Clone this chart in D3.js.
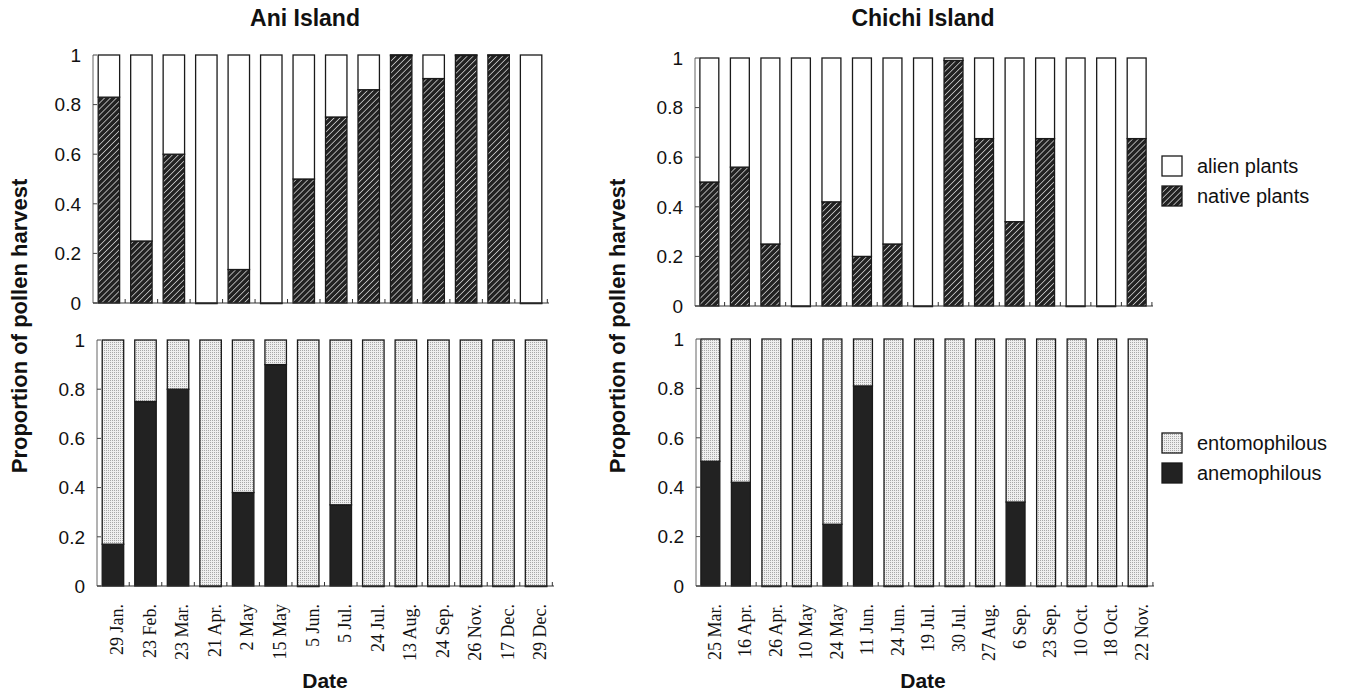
<!DOCTYPE html>
<html lang="en">
    <head>
        <meta charset="utf-8">
        <title>Pollen harvest</title>
        <script type="text/javascript" src="https://d3js.org/d3.v7.min.js"></script>
        <style type="text/css">
          body { margin: 0; background: #fff; }
          text { font-family: "Liberation Sans", Arial, sans-serif; fill: #111; }
          .date { font-family: "Liberation Serif", "Times New Roman", serif; font-size: 18px; }
        </style>
    </head>
    <body>
        <svg width="1348" height="696"></svg>
        <script type="text/javascript">

            //data
            const aniDates = ["29 Jan.", "23 Feb.", "23 Mar.", "21 Apr.", "2 May", "15 May", "5 Jun.",
                              "5 Jul.", "24 Jul.", "13 Aug.", "24 Sep.", "26 Nov.", "17 Dec.", "29 Dec."];
            const aniNative = [0.83, 0.25, 0.60, 0, 0.135, 0, 0.50, 0.75, 0.86, 1, 0.905, 1, 1, 0];
            const aniAnemo  = [0.17, 0.75, 0.80, 0, 0.38, 0.90, 0, 0.33, 0, 0, 0, 0, 0, 0];

            const chichiDates = ["25 Mar.", "16 Apr.", "26 Apr.", "10 May", "24 May", "11 Jun.", "24 Jun.",
                                 "19 Jul.", "30 Jul.", "27 Aug.", "6 Sep.", "23 Sep.", "10 Oct.", "18 Oct.", "22 Nov."];
            const chichiNative = [0.50, 0.56, 0.25, 0, 0.42, 0.20, 0.25, 0, 0.99, 0.675, 0.34, 0.675, 0, 0, 0.675];
            const chichiAnemo  = [0.505, 0.42, 0, 0, 0.25, 0.81, 0, 0, 0, 0, 0.34, 0, 0, 0, 0];

            const yTicks = [0, 0.2, 0.4, 0.6, 0.8, 1];
            const yTickLabels = ["0", "0.2", "0.4", "0.6", "0.8", "1"];

            const svg = d3.select("svg");
            const defs = svg.append("defs");

            //hatch pattern (native plants)
            const hatch = defs.append("pattern")
                .attr("id", "hatch")
                .attr("patternUnits", "userSpaceOnUse")
                .attr("width", 4.2).attr("height", 4.2)
                .attr("patternTransform", "rotate(45)");
            hatch.append("rect").attr("width", 4.2).attr("height", 4.2).attr("fill", "#222");
            hatch.append("line").attr("x1", 0).attr("y1", 0).attr("x2", 0).attr("y2", 4.2)
                .attr("stroke", "#fff").attr("stroke-width", 1.2);

            //stipple pattern (entomophilous)
            const dots = defs.append("pattern")
                .attr("id", "dots")
                .attr("patternUnits", "userSpaceOnUse")
                .attr("width", 2).attr("height", 2);
            dots.append("rect").attr("width", 2).attr("height", 2).attr("fill", "#efefef");
            dots.append("rect").attr("width", 1).attr("height", 1).attr("fill", "#a8a8a8");

            const panels = [
              {dates: aniDates, vals: aniNative, x0: 93, x1: 547, y0: 303, y1: 55, lower: "url(#hatch)", upper: "#fff", pad: 0.34},
              {dates: aniDates, vals: aniAnemo, x0: 97, x1: 552, y0: 586, y1: 340, lower: "#222", upper: "url(#dots)", pad: 0.34, labels: true},
              {dates: chichiDates, vals: chichiNative, x0: 695, x1: 1151, y0: 306, y1: 58, lower: "url(#hatch)", upper: "#fff", pad: 0.38},
              {dates: chichiDates, vals: chichiAnemo, x0: 696, x1: 1152, y0: 586, y1: 339, lower: "#222", upper: "url(#dots)", pad: 0.38, labels: true}
            ];

            panels.forEach(p => {
              const x = d3.scaleBand().domain(p.dates).range([p.x0, p.x1])
                          .paddingInner(p.pad).paddingOuter(0.16);
              const y = d3.scaleLinear().domain([0, 1]).range([p.y0, p.y1]);
              const g = svg.append("g");

              const rows = p.dates.map((d, i) => ({date: d, lower: p.vals[i], upper: 1 - p.vals[i]}));
              const series = d3.stack().keys(["lower", "upper"])(rows);

              g.selectAll("g.layer")
               .data(series)
               .join("g")
               .attr("class", "layer")
               .attr("fill", s => s.key == "lower" ? p.lower : p.upper)
               .selectAll("rect")
               .data(s => s)
               .join("rect")
               .attr("x", d => x(d.data.date))
               .attr("width", x.bandwidth())
               .attr("y", d => y(d[1]))
               .attr("height", d => Math.max(0.6, y(d[0]) - y(d[1])))
               .attr("stroke", "#1a1a1a")
               .attr("stroke-width", 1.3);

              //y axis, ticks pointing in
              g.append("line").attr("x1", p.x0).attr("x2", p.x0).attr("y1", y(0)).attr("y2", y(1))
               .attr("stroke", "#666").attr("stroke-width", 1);
              g.selectAll("line.ytick").data(yTicks).join("line")
               .attr("class", "ytick")
               .attr("x1", p.x0).attr("x2", p.x0 + 4)
               .attr("y1", d => y(d)).attr("y2", d => y(d))
               .attr("stroke", "#444");
              g.selectAll("text.ylab").data(yTicks).join("text")
               .attr("class", "ylab")
               .attr("x", p.x0 - 12).attr("y", d => y(d))
               .attr("dy", "0.36em")
               .attr("text-anchor", "end")
               .style("font-size", "19px")
               .text((d, i) => yTickLabels[i]);

              //x axis with small ticks between bars
              g.append("line").attr("x1", p.x0).attr("x2", p.x1 + 2).attr("y1", y(0)).attr("y2", y(0))
               .attr("stroke", "#333").attr("stroke-width", 1.2);
              const step = x.step();
              const bounds = p.dates.map(d => x(d) + x.bandwidth() + step * p.pad / 2);
              g.selectAll("line.xtick").data(bounds).join("line")
               .attr("class", "xtick")
               .attr("x1", d => d).attr("x2", d => d)
               .attr("y1", y(0)).attr("y2", y(0) - 4)
               .attr("stroke", "#333");

              if (p.labels) {
                g.selectAll("text.date").data(p.dates).join("text")
                 .attr("class", "date")
                 .attr("transform", d => `translate(${x(d) + x.bandwidth() / 2 + 4},604) rotate(-90)`)
                 .attr("dy", "0.35em")
                 .attr("text-anchor", "end")
                 .text(d => d);
              }
            });

            //titles and axis names
            const bold = (txt, size, tx, ty, rot) => svg.append("text")
                .attr("transform", `translate(${tx},${ty})` + (rot ? " rotate(-90)" : ""))
                .attr("text-anchor", "middle")
                .style("font-size", size + "px").style("font-weight", "bold")
                .text(txt);
            bold("Ani Island", 23, 305, 26);
            bold("Chichi Island", 23, 923, 26);
            bold("Proportion of pollen harvest", 22, 27, 326, true);
            bold("Proportion of pollen harvest", 22, 625, 326, true);
            bold("Date", 21, 325, 688);
            bold("Date", 21, 923, 688);

            //legends
            const legend = [
              {label: "alien plants", fill: "#fff", y: 156},
              {label: "native plants", fill: "url(#hatch)", y: 186},
              {label: "entomophilous", fill: "url(#dots)", y: 433},
              {label: "anemophilous", fill: "#222", y: 463}
            ];
            const lg = svg.selectAll("g.legend").data(legend).join("g").attr("class", "legend");
            lg.append("rect")
              .attr("x", 1162).attr("y", d => d.y)
              .attr("width", 20).attr("height", 20)
              .attr("fill", d => d.fill)
              .attr("stroke", "#1a1a1a").attr("stroke-width", 1.3);
            lg.append("text")
              .attr("x", 1197).attr("y", d => d.y + 17)
              .style("font-size", "20px")
              .text(d => d.label);

        </script>
    </body>
</html>
